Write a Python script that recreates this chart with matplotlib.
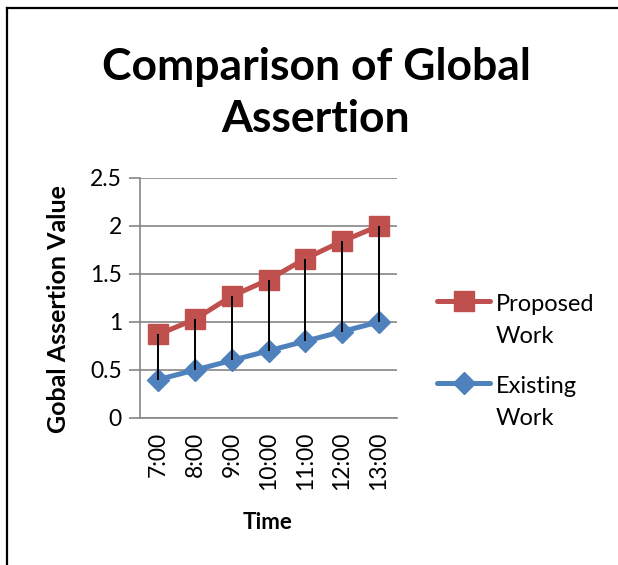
import matplotlib.pyplot as plt
from matplotlib.lines import Line2D

# hourly readings
times = ['7:00', '8:00', '9:00', '10:00', '11:00', '12:00', '13:00']
proposed = [0.87, 1.03, 1.27, 1.44, 1.66, 1.84, 2.0]
existing = [0.4, 0.5, 0.6, 0.7, 0.8, 0.9, 1.0]

red = '#C0504D'
blue = '#4F81BD'
grey = '#868686'

plt.rcParams['font.family'] = ['Lato', 'DejaVu Sans']

W, H = 618, 565
fig = plt.figure(figsize=(W / 100, H / 100), dpi=100)
ax = fig.add_axes([140 / W, 1 - 418 / H, 257 / W, 240 / H])

x = list(range(len(times)))
# high-low lines between the two series
ax.vlines(x, existing, proposed, color='black', lw=1.4, zorder=4)
ax.plot(x, proposed, color=red, lw=3.6, marker='s', ms=14, zorder=3)
ax.plot(x, existing, color=blue, lw=3.6, marker='D', ms=11, zorder=3)

ax.set_xlim(-0.5, len(times) - 0.5)
ax.set_ylim(0, 2.5)
ax.set_yticks([0, 0.5, 1, 1.5, 2, 2.5])
ax.set_yticklabels(['0', '0.5', '1', '1.5', '2', '2.5'], fontsize=16.5)
ax.set_xticks(x)
ax.set_xticklabels(times, rotation=90, fontsize=16.5)
ax.tick_params(axis='x', length=0, pad=10)
ax.tick_params(axis='y', length=8, width=1.2, color=grey, pad=5)
ax.yaxis.grid(True, color=grey, lw=1.2)
ax.set_axisbelow(True)
for s in ['top', 'right']:
    ax.spines[s].set_visible(False)
for s in ['left', 'bottom']:
    ax.spines[s].set_color(grey)
    ax.spines[s].set_linewidth(1.2)

fig.text(58 / W, 1 - 309 / H, 'Gobal Assertion Value', rotation=90, ha='center',
         va='center', fontsize=18, fontweight='bold')
fig.text(268 / W, 1 - 529 / H, 'Time', ha='center', va='baseline',
         fontsize=16, fontweight='bold')

fig.text(316 / W, 1 - 80 / H, 'Comparison of Global', ha='center', va='baseline',
         fontsize=32, fontweight='bold')
fig.text(316 / W, 1 - 132 / H, 'Assertion', ha='center', va='baseline',
         fontsize=32, fontweight='bold')

# legend
def legend_entry(y, color, marker, ms, lines):
    fig.add_artist(Line2D([437 / W, 490 / W], [1 - y / H] * 2, color=color, lw=3.6,
                          solid_capstyle='round'))
    fig.add_artist(Line2D([463.5 / W], [1 - y / H], color=color, marker=marker, ms=ms))
    for i, t in enumerate(lines):
        fig.text(496 / W, 1 - (y + 10 + 32 * i) / H, t, ha='left', va='baseline',
                 fontsize=17)

legend_entry(301, red, 's', 14, ['Proposed', 'Work'])
legend_entry(383, blue, 'D', 11, ['Existing', 'Work'])

# chart frame
fig.add_artist(Line2D([7 / W, 7 / W], [0, 1 - 7.5 / H], color='black', lw=1.6))
fig.add_artist(Line2D([7 / W, 1], [1 - 7.5 / H] * 2, color='black', lw=1.6))

fig.savefig('out.png', dpi=100)
